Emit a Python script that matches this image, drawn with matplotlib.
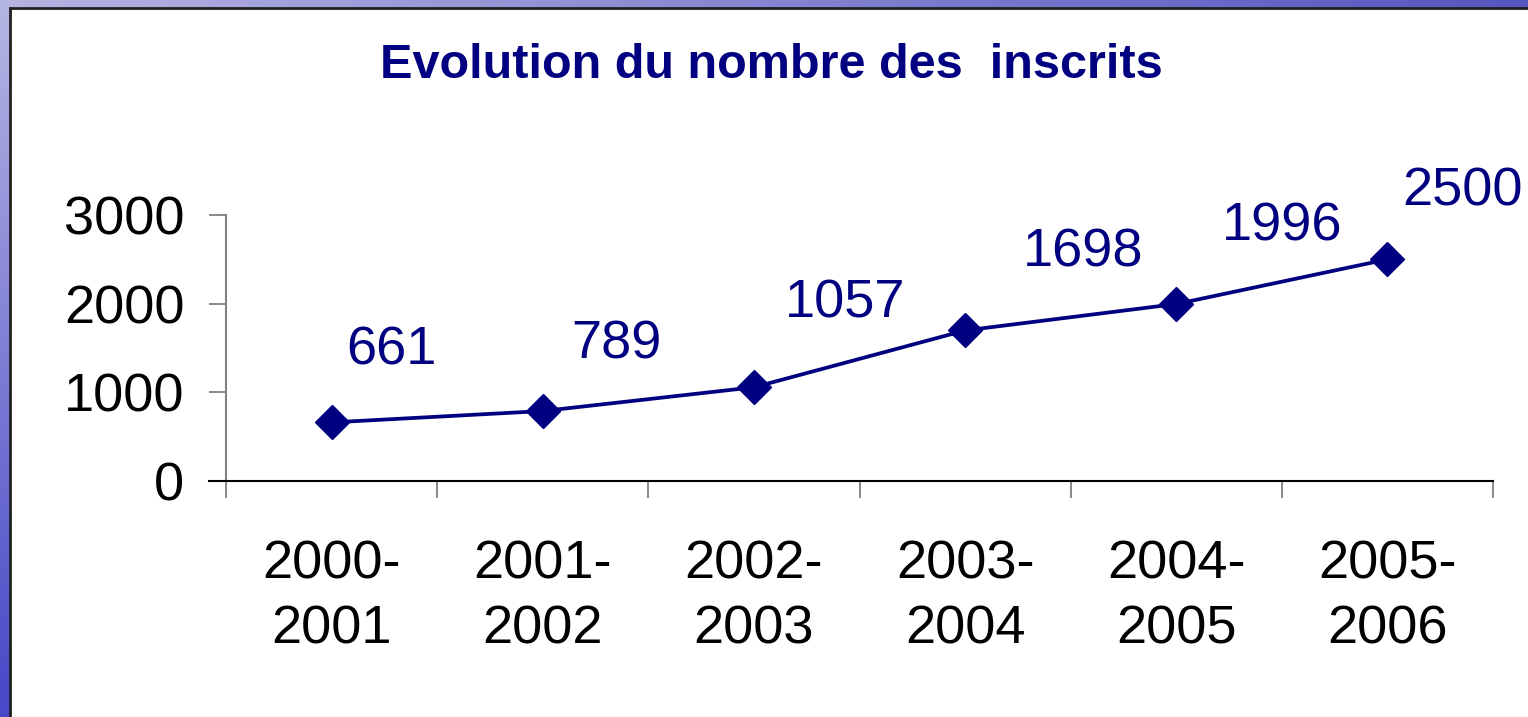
import numpy as np
import matplotlib
matplotlib.use("Agg")
import matplotlib.pyplot as plt
from matplotlib.patches import Rectangle

# data
periods = ["2000-\n2001", "2001-\n2002", "2002-\n2003",
           "2003-\n2004", "2004-\n2005", "2005-\n2006"]
inscrits = [661, 789, 1057, 1698, 1996, 2500]
y_ticks = [0, 1000, 2000, 3000]

# label offsets in points (dx, dy) from each marker
label_offsets = [(43, 52), (53, 48), (66, 60), (85, 56), (76, 56), (54, 49)]

navy = "#000080"
plt.rcParams["font.family"] = ["Liberation Sans", "DejaVu Sans"]

fig = plt.figure(figsize=(15.28, 7.17), dpi=100)

# bluish gradient background
bg = fig.add_axes([0, 0, 1, 1])
tl = np.array([180, 180, 226]) / 255
tr = np.array([86, 86, 192]) / 255
bl = np.array([72, 72, 200]) / 255
br = np.array([60, 60, 190]) / 255
u = np.linspace(0, 1, 64)[None, :, None]
v = np.linspace(0, 1, 32)[:, None, None]
grad = (1 - v) * ((1 - u) * tl + u * tr) + v * ((1 - u) * bl + u * br)
bg.imshow(grad, aspect="auto", extent=[0, 1, 0, 1], interpolation="bilinear")
bg.set_axis_off()

# white panel with dark edge
fig.patches.append(Rectangle((10 / 1528, -0.01), 1.0, (717 - 8) / 717 + 0.01,
                             transform=fig.transFigure, facecolor="white",
                             edgecolor="#202020", linewidth=2, zorder=1))

ax = fig.add_axes([226 / 1528, 236 / 717, (1493 - 226) / 1528, 266 / 717])
ax.set_zorder(2)
ax.patch.set_visible(False)

x = np.arange(len(periods))
ax.plot(x, inscrits, color=navy, linewidth=2.7, marker="D", markersize=17,
        clip_on=False)

for xi, val, (dx, dy) in zip(x, inscrits, label_offsets):
    ax.annotate(str(val), (xi, val), xytext=(dx, dy), textcoords="offset points",
                ha="center", va="center", fontsize=39, color=navy,
                annotation_clip=False)

ax.set_xlim(-0.5, len(periods) - 0.5)
ax.set_ylim(0, 3000)
ax.set_yticks(y_ticks)
ax.set_yticklabels([str(t) for t in y_ticks])
ax.set_xticks(x)
ax.set_xticklabels(periods)
ax.set_xticks(np.arange(-0.5, len(periods)), minor=True)

ax.tick_params(axis="y", length=12, width=1.3, color="#808080", pad=18, labelsize=39)
ax.tick_params(axis="x", which="major", length=0, pad=42, labelsize=39)
ax.tick_params(axis="x", which="minor", length=12, width=1.3, color="#808080")
for lbl in ax.get_xticklabels():
    lbl.set_linespacing(1.38)
for lbl in ax.get_yticklabels():
    lbl.set_y(lbl.get_position()[1])

for side in ["top", "right"]:
    ax.spines[side].set_visible(False)
ax.spines["left"].set_color("#808080")
ax.spines["left"].set_linewidth(1.5)
ax.spines["bottom"].set_color("black")
ax.spines["bottom"].set_linewidth(1.5)
ax.spines["bottom"].set_bounds(-0.5 - 17 / 211, len(periods) - 0.5)

fig.text(771 / 1528, 1 - 66 / 717, "Evolution du nombre des  inscrits",
         ha="center", va="center", fontsize=35, fontweight="bold", color=navy,
         zorder=3)

fig.savefig("out.png", dpi=100)
